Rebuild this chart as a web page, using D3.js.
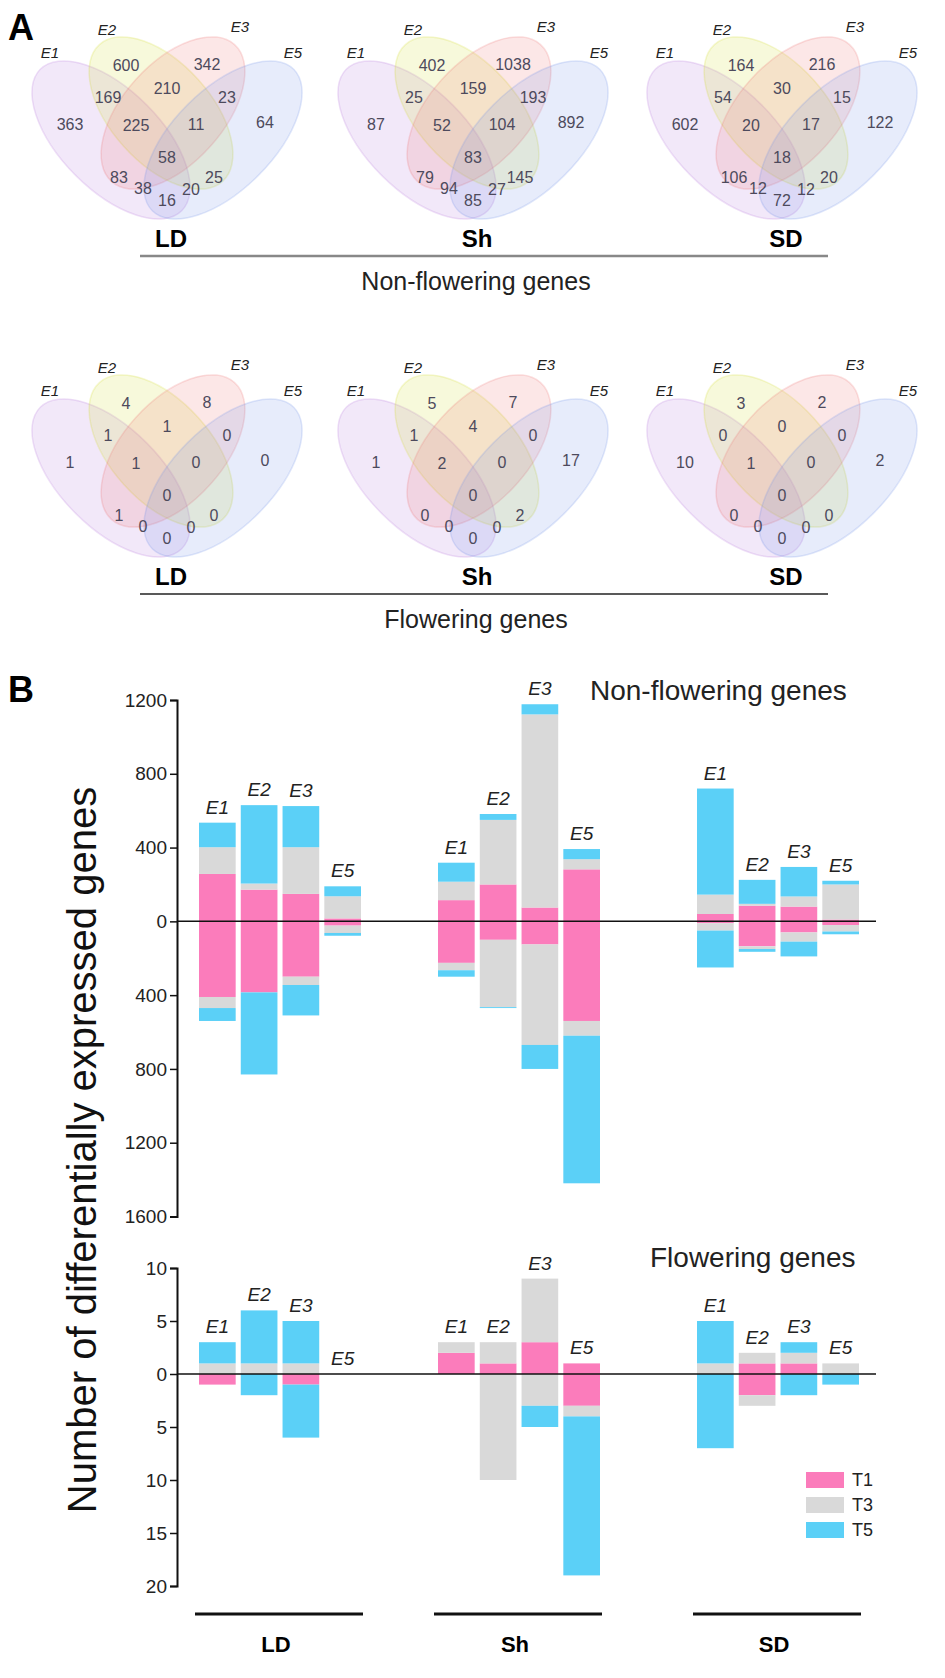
<!DOCTYPE html>
<html>
<head>
<meta charset="utf-8">
<script src="https://cdn.jsdelivr.net/npm/d3@7"></script>
<style>
body { margin: 0; background: #fff; }
text { font-family: Arial, "Liberation Sans", sans-serif; }
</style>
</head>
<body>
<div id="chart"></div>
<script>
// sets, groups, treatments
var groups = ["LD", "Sh", "SD"];
var envs = ["E1", "E2", "E3", "E5"];
var treatments = ["T1", "T3", "T5"];

// venn regions (same order in every venn value array)
var regions = ["E1", "E2", "E3", "E5", "E1E2", "E2E3", "E3E5", "E1E2E3", "E2E3E5",
	"E1E2E3E5", "E1E3", "E1E3E5", "E1E5", "E1E2E5", "E2E5"];

var vennNonFlowLD = [363, 600, 342, 64, 169, 210, 23, 225, 11, 58, 83, 38, 16, 20, 25];
var vennNonFlowSh = [87, 402, 1038, 892, 25, 159, 193, 52, 104, 83, 79, 94, 85, 27, 145];
var vennNonFlowSD = [602, 164, 216, 122, 54, 30, 15, 20, 17, 18, 106, 12, 72, 12, 20];
var vennFlowLD = [1, 4, 8, 0, 1, 1, 0, 1, 0, 0, 1, 0, 0, 0, 0];
var vennFlowSh = [1, 5, 7, 17, 1, 4, 0, 2, 0, 0, 0, 0, 0, 0, 2];
var vennFlowSD = [10, 3, 2, 2, 0, 0, 0, 1, 0, 0, 0, 0, 0, 0, 0];

// bar segments, order: LD E1,E2,E3,E5, Sh E1..E5, SD E1..E5
var nonFlowUpT1 = [257, 172, 149, 16, 115, 200, 75, 282, 40, 85, 80, 10];
var nonFlowUpT3 = [145, 33, 253, 120, 100, 350, 1047, 55, 105, 10, 55, 190];
var nonFlowUpT5 = [133, 425, 223, 54, 103, 32, 55, 55, 575, 130, 160, 20];
var nonFlowDownT1 = [410, 385, 300, 23, 225, 100, 125, 540, 10, 135, 60, 20];
var nonFlowDownT3 = [60, 0, 45, 40, 40, 365, 545, 80, 40, 15, 50, 35];
var nonFlowDownT5 = [70, 445, 165, 15, 35, 5, 130, 800, 200, 15, 80, 15];

var flowUpT1 = [0, 0, 0, 0, 2, 1, 3, 1, 0, 1, 1, 0];
var flowUpT3 = [1, 1, 1, 0, 1, 2, 6, 0, 1, 1, 1, 1];
var flowUpT5 = [2, 5, 4, 0, 0, 0, 0, 0, 4, 0, 1, 0];
var flowDownT1 = [1, 0, 1, 0, 0, 0, 0, 3, 0, 2, 0, 0];
var flowDownT3 = [0, 0, 0, 0, 0, 10, 3, 1, 0, 1, 0, 0];
var flowDownT5 = [0, 2, 5, 0, 0, 0, 2, 15, 7, 0, 2, 1];

var nonFlowTicks = [-1600, -1200, -800, -400, 0, 400, 800, 1200];
var flowTicks = [-20, -15, -10, -5, 0, 5, 10];

var svgContainer,
	width = 945,
	height = 1678;

var barColors = {T1: "#fb7cbb", T3: "#d9d9d9", T5: "#5bd0f7"};
var vennColors = ["#b478dc", "#d2dc28", "#eb7373", "#7391e6"];

// ellipse shapes relative to venn centre line
var vennEllipses = [
	{dx: -56, cy: 140, rx: 100, ry: 50, rot: 45},
	{dx: -6, cy: 113, rx: 92, ry: 50, rot: 48},
	{dx: 6, cy: 113, rx: 92, ry: 50, rot: -48},
	{dx: 56, cy: 140, rx: 100, ry: 50, rot: -45}
];
var vennLabelPos = [
	[-97, 124], [-41, 65], [40, 64], [98, 122],
	[-59, 97], [0, 88], [60, 97],
	[-31, 125], [29, 124], [0, 157],
	[-48, 177], [-24, 188], [0, 200], [24, 189], [47, 177]
];
var vennSetPos = [[-117, 58], [-60, 35], [73, 32], [126, 58]];
var vennCentres = [167, 473, 782];

function onLoad() {
	svgContainer = d3.select("#chart")
	.append("svg")
	.attr("width", width)
	.attr("height", height);

	drawPanelLetter("A", 8, 40);
	drawPanelLetter("B", 8, 702);

	drawVennRow([vennNonFlowLD, vennNonFlowSh, vennNonFlowSD], 0, "Non-flowering genes", "#888", 2.5);
	drawVennRow([vennFlowLD, vennFlowSh, vennFlowSD], 338, "Flowering genes", "#222", 1.5);

	var groupX = d3.scaleOrdinal().domain(groups).range([199, 438, 697]);
	var envX = d3.scaleBand().domain(envs).range([0, 162]).paddingInner(0.122);

	var yNonFlow = d3.scaleLinear().domain([-1600, 1200]).range([1216.5, 700]);
	var yFlow = d3.scaleLinear().domain([-20, 10]).range([1586, 1268]);

	drawBarPanel(yNonFlow, nonFlowTicks, groupX, envX,
		[nonFlowUpT1, nonFlowUpT3, nonFlowUpT5],
		[nonFlowDownT1, nonFlowDownT3, nonFlowDownT5]);
	drawBarPanel(yFlow, flowTicks, groupX, envX,
		[flowUpT1, flowUpT3, flowUpT5],
		[flowDownT1, flowDownT3, flowDownT5]);

	svgContainer.append("text")
	.attr("x", 590).attr("y", 700)
	.style("font-size", "28px").style("fill", "#222")
	.text("Non-flowering genes");
	svgContainer.append("text")
	.attr("x", 650).attr("y", 1267)
	.style("font-size", "28px").style("fill", "#222")
	.text("Flowering genes");

	svgContainer.append("text")
	.attr("transform", "translate(96,1150) rotate(-90)")
	.attr("text-anchor", "middle")
	.style("font-size", "40px").style("fill", "#111")
	.text("Number of differentially expressed genes");

	drawLegend();

	// group lines under the bars
	groups.forEach(function (g) {
		var x0 = groupX(g);
		svgContainer.append("line")
		.attr("x1", x0 - 4).attr("x2", x0 + envX.range()[1] + 2)
		.attr("y1", 1614).attr("y2", 1614)
		.attr("stroke", "#111").attr("stroke-width", 3);
		svgContainer.append("text")
		.attr("x", x0 + envX.range()[1] / 2 - 4).attr("y", 1652)
		.attr("text-anchor", "middle")
		.style("font-size", "22px").style("font-weight", "bold")
		.text(g);
	});
}

////////////////////////////////////////////
////////////////VENN////////////////////////
////////////////////////////////////////////

function drawPanelLetter(letter, x, y) {
	svgContainer.append("text")
	.attr("x", x).attr("y", y)
	.style("font-size", "36px").style("font-weight", "bold")
	.text(letter);
}

function drawVennRow(rowValues, dy, title, lineColor, lineWidth) {
	rowValues.forEach(function (values, i) {
		drawVenn(vennCentres[i], dy, values);
		svgContainer.append("text")
		.attr("x", vennCentres[i] + 4).attr("y", dy + 247)
		.attr("text-anchor", "middle")
		.style("font-size", "24px").style("font-weight", "bold")
		.text(groups[i]);
	});
	svgContainer.append("line")
	.attr("x1", 140).attr("x2", 828)
	.attr("y1", dy + 256).attr("y2", dy + 256)
	.attr("stroke", lineColor).attr("stroke-width", lineWidth);
	svgContainer.append("text")
	.attr("x", 476).attr("y", dy + 290)
	.attr("text-anchor", "middle")
	.style("font-size", "25px").style("fill", "#222")
	.text(title);
}

function drawVenn(cx, dy, values) {
	var g = svgContainer.append("g")
	.attr("transform", "translate(" + cx + "," + dy + ")");

	g.selectAll("ellipse")
	.data(vennEllipses)
	.enter()
	.append("ellipse")
	.attr("transform", function (e) { return "translate(" + e.dx + "," + e.cy + ") rotate(" + e.rot + ")"; })
	.attr("rx", function (e) { return e.rx; })
	.attr("ry", function (e) { return e.ry; })
	.style("fill", function (e, i) { return vennColors[i]; })
	.style("fill-opacity", 0.17)
	.style("stroke", function (e, i) { return vennColors[i]; })
	.style("stroke-opacity", 0.22)
	.style("stroke-width", 1.5);

	g.selectAll("text.count")
	.data(values)
	.enter()
	.append("text")
	.attr("class", "count")
	.attr("x", function (v, i) { return vennLabelPos[i][0]; })
	.attr("y", function (v, i) { return vennLabelPos[i][1]; })
	.attr("dy", "0.35em")
	.attr("text-anchor", "middle")
	.style("font-size", "16px")
	.style("fill", "#4d4a5c")
	.text(function (v) { return v; });

	g.selectAll("text.set")
	.data(envs)
	.enter()
	.append("text")
	.attr("class", "set")
	.attr("x", function (s, i) { return vennSetPos[i][0]; })
	.attr("y", function (s, i) { return vennSetPos[i][1]; })
	.attr("text-anchor", "middle")
	.style("font-size", "15px")
	.style("font-style", "italic")
	.style("fill", "#222")
	.text(function (s) { return s; });
}

////////////////////////////////////////////
////////////////BARS////////////////////////
////////////////////////////////////////////

function toRows(series) {
	var rows = [];
	for (var i = 0; i < series[0].length; i++) {
		var row = {index: i};
		treatments.forEach(function (t, k) { row[t] = series[k][i]; });
		rows.push(row);
	}
	return rows;
}

function barX(i, groupX, envX) {
	return groupX(groups[Math.floor(i / 4)]) + envX(envs[i % 4]);
}

function drawBarPanel(y, ticks, groupX, envX, upSeries, downSeries) {
	var stack = d3.stack().keys(treatments);
	var up = stack(toRows(upSeries));
	var down = stack(toRows(downSeries));

	var g = svgContainer.append("g");

	up.forEach(function (layer) {
		g.selectAll(null)
		.data(layer)
		.enter()
		.append("rect")
		.attr("x", function (d, i) { return barX(i, groupX, envX); })
		.attr("y", function (d) { return y(d[1]); })
		.attr("width", envX.bandwidth())
		.attr("height", function (d) { return y(d[0]) - y(d[1]); })
		.style("fill", barColors[layer.key]);
	});
	down.forEach(function (layer) {
		g.selectAll(null)
		.data(layer)
		.enter()
		.append("rect")
		.attr("x", function (d, i) { return barX(i, groupX, envX); })
		.attr("y", function (d) { return y(-d[0]); })
		.attr("width", envX.bandwidth())
		.attr("height", function (d) { return y(-d[1]) - y(-d[0]); })
		.style("fill", barColors[layer.key]);
	});

	// env labels above bars
	var tops = up[up.length - 1];
	g.selectAll("text.env")
	.data(tops)
	.enter()
	.append("text")
	.attr("class", "env")
	.attr("x", function (d, i) { return barX(i, groupX, envX) + envX.bandwidth() / 2; })
	.attr("y", function (d) { return y(d[1]) - 9; })
	.attr("text-anchor", "middle")
	.style("font-size", "19px")
	.style("font-style", "italic")
	.style("fill", "#222")
	.text(function (d, i) { return envs[i % 4]; });

	// zero line
	g.append("line")
	.attr("x1", 177).attr("x2", 876)
	.attr("y1", y(0)).attr("y2", y(0))
	.attr("stroke", "#111").attr("stroke-width", 1.5);

	var axis = d3.axisLeft(y)
	.tickValues(ticks)
	.tickSize(7)
	.tickPadding(3)
	.tickFormat(function (v) { return Math.abs(v); });

	var axisGroup = svgContainer.append("g")
	.attr("transform", "translate(177,0)")
	.call(axis);
	axisGroup.select(".domain").attr("stroke", "#111").attr("stroke-width", 2);
	axisGroup.selectAll(".tick line").attr("stroke", "#111").attr("stroke-width", 1.5);
	axisGroup.selectAll(".tick text")
	.style("font-size", "19px")
	.style("font-family", "Arial, 'Liberation Sans', sans-serif")
	.style("fill", "#222");
}

function drawLegend() {
	var legendY = d3.scalePoint().domain(treatments).range([1480, 1530]);
	var lg = svgContainer.append("g");
	lg.selectAll("rect")
	.data(treatments)
	.enter()
	.append("rect")
	.attr("x", 806)
	.attr("y", function (t) { return legendY(t) - 8; })
	.attr("width", 38).attr("height", 16)
	.style("fill", function (t) { return barColors[t]; });
	lg.selectAll("text")
	.data(treatments)
	.enter()
	.append("text")
	.attr("x", 852)
	.attr("y", function (t) { return legendY(t); })
	.attr("dy", "0.35em")
	.style("font-size", "18px")
	.style("fill", "#222")
	.text(function (t) { return t; });
}

onLoad();
</script>
</body>
</html>
